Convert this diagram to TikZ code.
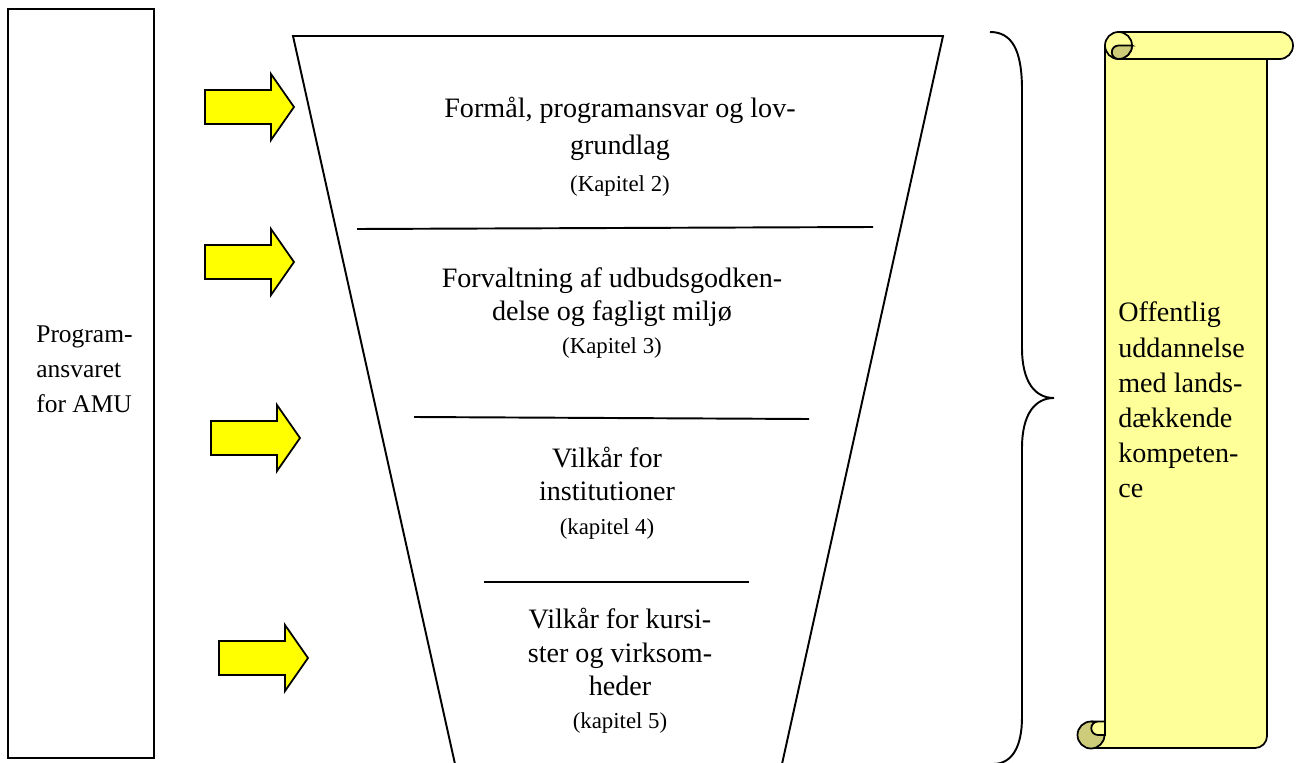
\documentclass[tikz,border=0pt]{standalone}
\usepackage{fontspec}
\setmainfont{Liberation Serif}
\usepackage{tikz}
\definecolor{scrollyellow}{RGB}{255,255,153}
\definecolor{scrolldark}{RGB}{204,204,122}
\definecolor{arrowyellow}{RGB}{255,255,0}
\newcommand{\kap}{\fontsize{13}{15}\selectfont}

\tikzset{
  frame/.style={draw, line width=1.1pt},
  blockarrow/.style={draw, fill=arrowyellow, line width=1pt, line join=miter},
  midtext/.style={align=center, inner sep=0pt, font=\fontsize{16}{19}\selectfont},
  sidetext/.style={align=left, anchor=west, inner sep=0pt, font=\fontsize{16}{20}\selectfont},
  scrollpart/.style={draw, fill=scrollyellow, line width=1pt},
}

\begin{document}
\begin{tikzpicture}[x=0.02cm, y=0.02cm]
\useasboundingbox (0,0) rectangle (1298,762);

% left box
\draw[frame, line width=1.3pt] (8,4) rectangle (154,753);
\node[sidetext, font=\fontsize{14.5}{20}\selectfont] (prog) at (36,393) {Program-\\ansvaret\\for AMU};

% arrows
\foreach \tx/\ty in {294/655, 294/500, 300/324, 308/104}{
  \draw[blockarrow] (\tx,\ty) -- ++(-23,33) -- ++(0,-16) -- ++(-66,0) -- ++(0,-34)
    -- ++(66,0) -- ++(0,-16) -- cycle;
}

% funnel
\draw[frame] (455,-2) -- (293,726) -- (943,726) -- (782,-2);
\draw[frame] (357,533) -- (873,535);
\draw[frame] (414,345) -- (809,343);
\draw[frame] (484,180) -- (749,180);

\node[midtext, font=\fontsize{16}{21}\selectfont] (s1) at (620,615)
  {Formål, programansvar og lov-\\grundlag\\{\kap (Kapitel 2)}};
\node[midtext] (s2) at (612,449)
  {Forvaltning af udbudsgodken-\\delse og fagligt miljø\\{\kap (Kapitel 3)}};
\node[midtext] (s3) at (607,269)
  {Vilkår for\\institutioner\\{\kap (kapitel 4)}};
\node[midtext] (s4) at (620,91)
  {Vilkår for kursi-\\ster og virksom-\\heder\\{\kap (kapitel 5)}};

% brace
\draw[frame] (990,730) .. controls (1012,730) and (1022,712) .. (1022,672)
  -- (1022,414) .. controls (1022,380) and (1035,364) .. (1054,364)
  .. controls (1035,364) and (1022,348) .. (1022,314)
  -- (1022,45) .. controls (1022,15) and (1012,-2) .. (993,-2);

% scroll
\draw[scrollpart] (1105,716.5) -- (1105,40) -- (1091,40) -- (1091,14) -- (1255,14)
  arc[start angle=270, end angle=360, radius=12] -- (1267,716.5) -- cycle;
\draw[scrollpart] (1118.5,730) -- (1279.5,730) arc[start angle=90, end angle=-90, radius=13.5]
  -- (1118.5,703) -- cycle;
\draw[scrollpart] (1118.5,716.5) circle[radius=13.5];
\draw[scrollpart, fill=scrolldark] (1132,716.5) -- (1118.5,716.5)
  arc[start angle=90, end angle=270, radius=6.75]
  arc[start angle=270, end angle=360, radius=13.5] -- cycle;
\draw[scrollpart, fill=scrolldark] (1091,27) circle[radius=13.5];
\draw[scrollpart] (1091,40.5) -- (1105,40.5) -- (1105,27) -- (1098,27)
  arc[start angle=270, end angle=90, radius=6.75] -- cycle;
\node[sidetext] (pub) at (1118,362)
  {Offentlig\\uddannelse\\med lands-\\dækkende\\kompeten-\\ce};
\end{tikzpicture}
\end{document}
